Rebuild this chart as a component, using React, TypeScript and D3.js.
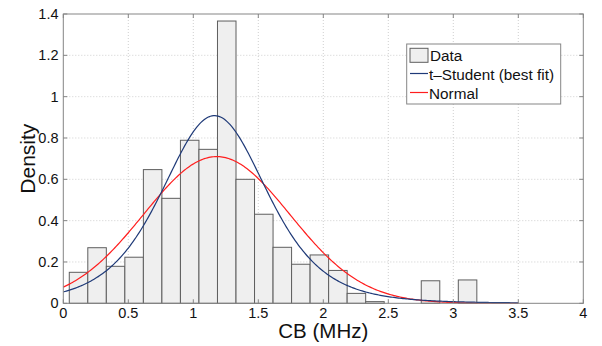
import React from "react";
import * as d3 from "d3";

// Histogram of CB values (density-normalised), equal-width bins
const BIN_START = 0.046;
const BIN_WIDTH = 0.1425;
const BIN_DENSITY = [
  0.15, 0.269, 0.179, 0.223, 0.647, 0.508, 0.789, 0.745, 1.366, 0.6, 0.431,
  0.271, 0.189, 0.234, 0.159, 0.048, 0.008, 0, 0, 0.109, 0, 0.113,
];

// Fitted distributions
const T_MU = 1.163;
const T_SIGMA = 0.418;
const T_NU = 5;
const NORMAL_MU = 1.18;
const NORMAL_SIGMA = 0.562;
const FIT_RANGE = [0, 3.5];

const X_TICKS = [0, 0.5, 1, 1.5, 2, 2.5, 3, 3.5, 4];
const Y_TICKS = [0, 0.2, 0.4, 0.6, 0.8, 1, 1.2, 1.4];

const LEGEND_LABELS = ["Data", "t\u2013Student (best fit)", "Normal"];

const W = 602;
const H = 346;
const M = { left: 63.3, right: 583.3, top: 14, bottom: 303.3 };

const FONT = "'Liberation Sans', Arial, Helvetica, sans-serif";
const FRAME = "#858585";
const BLUE = "#1f3a78";
const RED = "#ff1e1e";

function lgamma(z: number): number {
  // Lanczos approximation
  const g = 7;
  const c = [
    0.99999999999980993, 676.5203681218851, -1259.1392167224028,
    771.32342877765313, -176.61502916214059, 12.507343278686905,
    -0.13857109526572012, 9.9843695780195716e-6, 1.5056327351493116e-7,
  ];
  if (z < 0.5) return Math.log(Math.PI / Math.sin(Math.PI * z)) - lgamma(1 - z);
  z -= 1;
  let x = c[0];
  for (let i = 1; i < g + 2; i++) x += c[i] / (z + i);
  const t = z + g + 0.5;
  return 0.5 * Math.log(2 * Math.PI) + (z + 0.5) * Math.log(t) - t + Math.log(x);
}

function tPdf(x: number): number {
  const z = (x - T_MU) / T_SIGMA;
  const logC =
    lgamma((T_NU + 1) / 2) - lgamma(T_NU / 2) - 0.5 * Math.log(T_NU * Math.PI);
  return (Math.exp(logC) / T_SIGMA) * Math.pow(1 + (z * z) / T_NU, -(T_NU + 1) / 2);
}

function normalPdf(x: number): number {
  const z = (x - NORMAL_MU) / NORMAL_SIGMA;
  return Math.exp(-0.5 * z * z) / (NORMAL_SIGMA * Math.sqrt(2 * Math.PI));
}

export default function App() {
  const x = d3.scaleLinear().domain([0, 4]).range([M.left, M.right]);
  const y = d3.scaleLinear().domain([0, 1.4]).range([M.bottom, M.top]);

  const samples = d3.range(0, 301).map(
    (i) => FIT_RANGE[0] + ((FIT_RANGE[1] - FIT_RANGE[0]) * i) / 300
  );
  const line = d3
    .line<[number, number]>()
    .x((d) => x(d[0]))
    .y((d) => y(d[1]));
  const tPath = line(samples.map((s) => [s, tPdf(s)] as [number, number])) || "";
  const nPath = line(samples.map((s) => [s, normalPdf(s)] as [number, number])) || "";

  const fmt = (v: number) => String(v);

  const lx = 406.7;
  const ly = 44;

  return (
    <svg
      width={W}
      height={H}
      style={{ position: "absolute", left: 0, top: 0, background: "#fff" }}
      fontFamily={FONT}
    >
      <rect x={0} y={0} width={W} height={H} fill="#fff" />
      {/* grid */}
      <g stroke="#c4c4c4" strokeWidth={0.8} strokeDasharray="1,2">
        {X_TICKS.slice(1, -1).map((t) => (
          <line key={"gx" + t} x1={x(t)} x2={x(t)} y1={M.top} y2={M.bottom} />
        ))}
        {Y_TICKS.slice(1, -1).map((t) => (
          <line key={"gy" + t} x1={M.left} x2={M.right} y1={y(t)} y2={y(t)} />
        ))}
      </g>

      {/* histogram bars */}
      <g fill="#efefef" stroke="#5e5e5e" strokeWidth={1}>
        {BIN_DENSITY.map((d, i) => {
          const x0 = x(BIN_START + i * BIN_WIDTH);
          const x1 = x(BIN_START + (i + 1) * BIN_WIDTH);
          return (
            <rect
              key={"b" + i}
              x={x0}
              y={y(d)}
              width={x1 - x0}
              height={y(0) - y(d)}
            />
          );
        })}
      </g>

      {/* fitted curves */}
      <path d={nPath} fill="none" stroke={RED} strokeWidth={1.2} />
      <path d={tPath} fill="none" stroke={BLUE} strokeWidth={1.2} />

      {/* frame and ticks */}
      <rect
        x={M.left}
        y={M.top}
        width={M.right - M.left}
        height={M.bottom - M.top}
        fill="none"
        stroke={FRAME}
        strokeWidth={1}
      />
      <g stroke={FRAME} strokeWidth={1}>
        {X_TICKS.map((t) => (
          <g key={"tx" + t}>
            <line x1={x(t)} x2={x(t)} y1={M.bottom} y2={M.bottom - 4} />
            <line x1={x(t)} x2={x(t)} y1={M.top} y2={M.top + 4} />
          </g>
        ))}
        {Y_TICKS.map((t) => (
          <g key={"ty" + t}>
            <line x1={M.left} x2={M.left + 4} y1={y(t)} y2={y(t)} />
            <line x1={M.right} x2={M.right - 4} y1={y(t)} y2={y(t)} />
          </g>
        ))}
      </g>

      {/* tick labels */}
      <g fontSize={14.5} fill="#111">
        {X_TICKS.map((t) => (
          <text key={"lx" + t} x={x(t)} y={318} textAnchor="middle">
            {fmt(t)}
          </text>
        ))}
        {Y_TICKS.map((t) => (
          <text key={"ly" + t} x={58.5} y={y(t) + 5} textAnchor="end">
            {fmt(t)}
          </text>
        ))}
      </g>

      {/* axis titles */}
      <text
        x={(M.left + M.right) / 2}
        y={337.5}
        textAnchor="middle"
        fontSize={20.5}
        fill="#111"
      >
        CB (MHz)
      </text>
      <text
        transform={`translate(35,${(M.top + M.bottom) / 2}) rotate(-90)`}
        textAnchor="middle"
        fontSize={21}
        fill="#111"
      >
        Density
      </text>

      {/* legend */}
      <g>
        <rect x={lx} y={ly} width={154} height={60} fill="#fff" stroke={FRAME} strokeWidth={1} />
        <rect x={410} y={48.3} width={18} height={14} fill="#efefef" stroke="#5e5e5e" strokeWidth={1} />
        <line x1={410} x2={428} y1={73.5} y2={73.5} stroke={BLUE} strokeWidth={1.2} />
        <line x1={410} x2={428} y1={92.5} y2={92.5} stroke={RED} strokeWidth={1.2} />
        <g fontSize={15.3} fill="#111">
          <text x={430} y={60.5}>{LEGEND_LABELS[0]}</text>
          <text x={429} y={79.5}>{LEGEND_LABELS[1]}</text>
          <text x={429} y={98.5}>{LEGEND_LABELS[2]}</text>
        </g>
      </g>
    </svg>
  );
}
